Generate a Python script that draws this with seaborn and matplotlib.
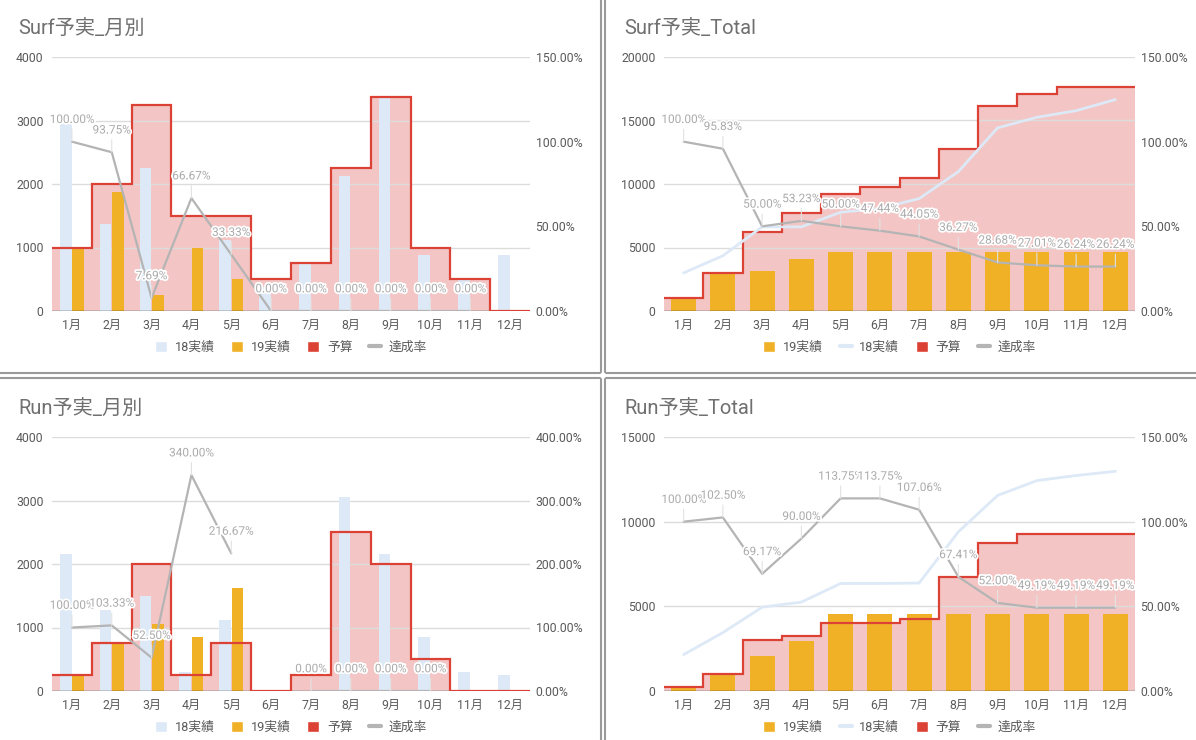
import matplotlib.patheffects as pe
import matplotlib.pyplot as plt
import numpy as np
import pandas as pd
import seaborn as sns
from matplotlib.lines import Line2D
from matplotlib.patches import Patch
from matplotlib.ticker import StrMethodFormatter

sns.set_theme(style="white")
plt.rcParams["font.family"] = ["Roboto", "Noto Sans CJK JP", "DejaVu Sans"]

W, H = 1196, 740

MONTHS = [f"{m}月" for m in range(1, 13)]

# Surf, per month
SURF_18 = [2950, 1375, 2250, 0, 1125, 375, 750, 2125, 3350, 875, 500, 875]
SURF_19 = [1000, 1875, 250, 1000, 500, 0, 0, 0, 0, 0, 0, 0]
SURF_BUDGET = [1000, 2000, 3250, 1500, 1500, 500, 750, 2250, 3375, 1000, 500, 0]
SURF_RATE = [100.00, 93.75, 7.69, 66.67, 33.33, 0, 0, 0, 0, 0, 0, None]

# Surf, running total
SURF_18_TOTAL = [3000, 4350, 6625, 6625, 7775, 8075, 8850, 10975, 14425, 15250, 15775, 16650]
SURF_19_TOTAL = [1000, 2875, 3125, 4125, 4625, 4625, 4625, 4625, 4625, 4625, 4625, 4625]
SURF_BUDGET_TOTAL = [1000, 3000, 6250, 7750, 9250, 9750, 10500, 12750, 16125, 17125, 17625, 17625]
SURF_RATE_TOTAL = [100.00, 95.83, 50.00, 53.23, 50.00, 47.44, 44.05, 36.27, 28.68, 27.01, 26.24, 26.24]

# Run, per month
RUN_18 = [2150, 1275, 1500, 300, 1125, 0, 0, 3050, 2150, 850, 300, 250]
RUN_19 = [250, 775, 1050, 850, 1625, 0, 0, 0, 0, 0, 0, 0]
RUN_BUDGET = [250, 750, 2000, 250, 750, 0, 250, 2500, 2000, 500, 0, 0]
RUN_RATE = [100.00, 103.33, 52.50, 340.00, 216.67, None, 0, 0, 0, 0, None, None]

# Run, running total
RUN_18_TOTAL = [2150, 3450, 4950, 5250, 6350, 6350, 6375, 9400, 11550, 12425, 12725, 12975]
RUN_19_TOTAL = [250, 1025, 2075, 2925, 4550, 4550, 4550, 4550, 4550, 4550, 4550, 4550]
RUN_BUDGET_TOTAL = [250, 1000, 3000, 3250, 4000, 4000, 4250, 6750, 8750, 9250, 9250, 9250]
RUN_RATE_TOTAL = [100.00, 102.50, 69.17, 90.00, 113.75, 113.75, 107.06, 67.41, 52.00, 49.19, 49.19, 49.19]

LIGHT_BLUE = "#dde9f6"
ORANGE = "#f0b127"
RED = "#dc4135"
PINK = "#f3c6c5"
GRAY = "#b4b4b4"
LABEL_GRAY = "#ababab"
TEXT = "#5a5a5a"
TITLE = "#707070"


def px_rect(x0, y0, x1, y1):
    return [x0 / W, 1 - y1 / H, (x1 - x0) / W, (y1 - y0) / H]


def rate_frame(rates):
    s = pd.Series(rates, dtype=float)
    d = pd.DataFrame({"pos": np.arange(len(s)), "rate": s, "seg": s.isna().cumsum()})
    return d.dropna()


def label_rates(ax2, rates):
    for i, v in enumerate(rates):
        if v is None:
            continue
        ax2.annotate(
            f"{v:.2f}%", xy=(i, v), xytext=(0, 16), textcoords="offset points",
            ha="center", va="center", fontsize=8.5, color=LABEL_GRAY,
            path_effects=[pe.withStroke(linewidth=2.5, foreground="white")],
            arrowprops=dict(arrowstyle="-", color="#e2e2e2", lw=0.8, shrinkA=0, shrinkB=0),
            zorder=5,
        )


def draw_panel(fig, rect, title, title_xy, budget, rates, ymax, ystep, rmax, rstep,
               bars18=None, bars19=None, total19=None, line18=None):
    ax = fig.add_axes(rect)
    ax2 = ax.twinx()

    if total19 is None:
        df = pd.DataFrame({
            "month": MONTHS * 2,
            "series": ["18実績"] * 12 + ["19実績"] * 12,
            "value": bars18 + bars19,
        })
        sns.barplot(data=df, x="month", y="value", hue="series", order=MONTHS,
                    hue_order=["18実績", "19実績"],
                    palette={"18実績": LIGHT_BLUE, "19実績": ORANGE},
                    width=0.62, gap=0.05, saturation=1, linewidth=0,
                    legend=False, ax=ax)
        handles = [Patch(facecolor=LIGHT_BLUE, label="18実績"),
                   Patch(facecolor=ORANGE, label="19実績")]
    else:
        sns.barplot(x=MONTHS, y=total19, color=ORANGE, width=0.64, saturation=1,
                    linewidth=0, ax=ax)
        sns.lineplot(x=np.arange(12), y=line18, color=LIGHT_BLUE, lw=2, zorder=3, ax=ax)
        handles = [Patch(facecolor=ORANGE, label="19実績"),
                   Line2D([], [], color=LIGHT_BLUE, lw=3, label="18実績")]
    handles += [Patch(facecolor=RED, label="予算"),
                Line2D([], [], color=GRAY, lw=3, label="達成率")]

    edges = np.arange(13) - 0.5
    ax.stairs(budget, edges, fill=True, color=PINK, lw=0, zorder=0.2)
    ax.stairs(budget, edges, color=RED, lw=1.6, zorder=2.5, baseline=None)
    ax.axhline(0, color="#333333", lw=1, zorder=2.2)

    ax.set_ylim(0, ymax)
    ax.set_yticks(np.arange(0, ymax + 1, ystep))
    ax.set_axisbelow(True)
    ax.yaxis.grid(True, color="#dcdcdc", lw=1)
    ax.xaxis.grid(False)
    ax.set_xlabel("")
    ax.set_ylabel("")
    ax.tick_params(axis="both", length=0, labelsize=8.8, labelcolor=TEXT)
    ax.tick_params(axis="x", pad=6)
    ax.tick_params(axis="y", pad=6)

    d = rate_frame(rates)
    sns.lineplot(data=d, x="pos", y="rate", units="seg", estimator=None,
                 color=GRAY, lw=1.6, ax=ax2)
    label_rates(ax2, rates)
    ax2.set_ylim(0, rmax)
    ax2.set_yticks(np.arange(0, rmax + 1, rstep))
    ax2.yaxis.set_major_formatter(StrMethodFormatter("{x:.2f}%"))
    ax2.set_xlabel("")
    ax2.set_ylabel("")
    ax2.tick_params(axis="y", length=0, labelsize=8.8, labelcolor=TEXT, pad=4)
    ax2.grid(False)

    for a in (ax, ax2):
        for sp in a.spines.values():
            sp.set_visible(False)
    ax.set_xlim(-0.5, 11.5)

    ax2.legend(handles=handles, loc="center", bbox_to_anchor=(0.5, -0.142), ncol=4,
               frameon=False, fontsize=9.2, labelcolor=TEXT, handlelength=0.95,
               handleheight=0.95, handletextpad=0.6, columnspacing=1.3)

    fig.text(title_xy[0] / W, 1 - title_xy[1] / H, title, ha="left", va="center",
             fontsize=14.5, color=TITLE)


def draw_dividers(fig):
    kw = dict(color="#9a9a9a", lw=1.5, transform=fig.transFigure)
    for x in (601, 605):
        for y0, y1 in ((0, 372), (379, 740)):
            fig.add_artist(Line2D([x / W, x / W], [1 - y0 / H, 1 - y1 / H], **kw))
    for y in (373, 378):
        for x0, x1 in ((0, 600), (606, 1196)):
            fig.add_artist(Line2D([x0 / W, x1 / W], [1 - y / H, 1 - y / H], **kw))


def main():
    fig = plt.figure(figsize=(W / 100, H / 100), dpi=100)
    fig.patch.set_facecolor("white")

    draw_panel(fig, px_rect(52, 57, 530, 311), "Surf予実_月別", (18, 28),
               SURF_BUDGET, SURF_RATE, 4000, 1000, 150, 50,
               bars18=SURF_18, bars19=SURF_19)
    draw_panel(fig, px_rect(664, 57, 1135, 311), "Surf予実_Total", (624, 28),
               SURF_BUDGET_TOTAL, SURF_RATE_TOTAL, 20000, 5000, 150, 50,
               total19=SURF_19_TOTAL, line18=SURF_18_TOTAL)
    draw_panel(fig, px_rect(52, 437, 530, 691), "Run予実_月別", (18, 408),
               RUN_BUDGET, RUN_RATE, 4000, 1000, 400, 100,
               bars18=RUN_18, bars19=RUN_19)
    draw_panel(fig, px_rect(664, 437, 1135, 691), "Run予実_Total", (624, 408),
               RUN_BUDGET_TOTAL, RUN_RATE_TOTAL, 15000, 5000, 150, 50,
               total19=RUN_19_TOTAL, line18=RUN_18_TOTAL)

    draw_dividers(fig)
    fig.savefig("out.png", dpi=100)
    plt.close(fig)


if __name__ == "__main__":
    main()
